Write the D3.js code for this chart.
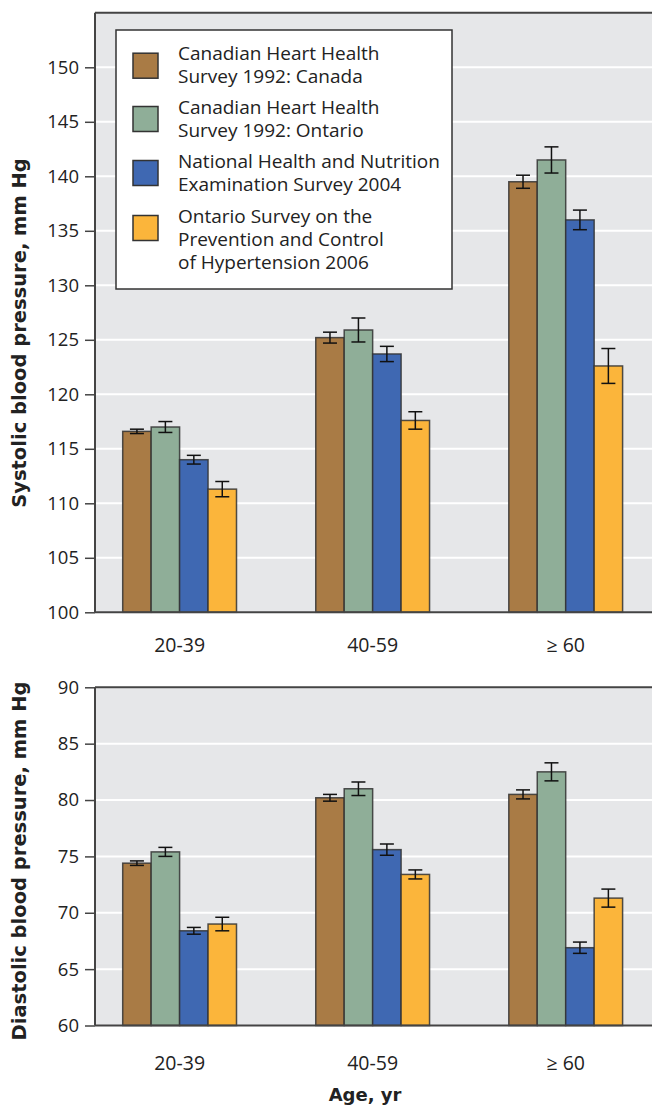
<!DOCTYPE html>
<html><head><meta charset="utf-8">
<script src="https://cdn.jsdelivr.net/npm/d3@7/dist/d3.min.js"></script>
<style>body{margin:0;background:#fff}svg{display:block}</style>
</head><body><svg id="c" width="652" height="1108"></svg>
<script>
const categories = ["20-39", "40-59", "\u2265 60"];
const seriesNames = ["chhsCanada", "chhsOntario", "nhanes", "ospch"];
const legendLabels = [
  ["Canadian Heart Health", "Survey 1992: Canada"],
  ["Canadian Heart Health", "Survey 1992: Ontario"],
  ["National Health and Nutrition", "Examination Survey 2004"],
  ["Ontario Survey on the", "Prevention and Control", "of Hypertension 2006"]
];
const colors = ["#a97b45", "#8fae98", "#3f68b2", "#fbb53b"];

// Systolic (mm Hg)
const sysCanada  = [116.6, 125.2, 139.5];
const sysOntario = [117.0, 125.9, 141.5];
const sysNhanes  = [114.0, 123.7, 136.0];
const sysOspch   = [111.3, 117.6, 122.6];
const sysErrCanada  = [0.2, 0.5, 0.6];
const sysErrOntario = [0.5, 1.1, 1.2];
const sysErrNhanes  = [0.4, 0.7, 0.9];
const sysErrOspch   = [0.7, 0.8, 1.6];
const sysTicks = [100, 105, 110, 115, 120, 125, 130, 135, 140, 145, 150];

// Diastolic (mm Hg)
const diaCanada  = [74.4, 80.2, 80.5];
const diaOntario = [75.4, 81.0, 82.5];
const diaNhanes  = [68.4, 75.6, 66.9];
const diaOspch   = [69.0, 73.4, 71.3];
const diaErrCanada  = [0.2, 0.3, 0.4];
const diaErrOntario = [0.4, 0.6, 0.8];
const diaErrNhanes  = [0.3, 0.5, 0.5];
const diaErrOspch   = [0.6, 0.4, 0.8];
const diaTicks = [60, 65, 70, 75, 80, 85, 90];

const yTitleSys = "Systolic blood pressure, mm Hg";
const yTitleDia = "Diastolic blood pressure, mm Hg";
const xTitle = "Age, yr";

const svg = d3.select("#c");
const FONT = "'Open Sans', sans-serif";
const BOLD = "'DejaVu Sans', sans-serif";
const left = 95, right = 652;

const x0 = d3.scalePoint().domain(categories).range([179.6, 565.7]);
const x1 = d3.scaleBand().domain(seriesNames).range([-56.9, 56.9]);

function panel(cfg) {
  const y = d3.scaleLinear().domain(cfg.domain).range([cfg.bottom, cfg.top]);
  const g = svg.append("g");
  g.append("rect").attr("x", left).attr("y", cfg.top).attr("width", right - left + 10)
    .attr("height", cfg.bottom - cfg.top).attr("fill", "#e6e7e9");
  g.selectAll(".grid").data(cfg.ticks.filter(t => t !== cfg.domain[0])).join("line")
    .attr("x1", left).attr("x2", right).attr("y1", d => y(d)).attr("y2", d => y(d))
    .attr("stroke", "#fff").attr("stroke-width", 2);
  g.append("line").attr("x1", left).attr("x2", right).attr("y1", cfg.top).attr("y2", cfg.top)
    .attr("stroke", "#444").attr("stroke-width", 2);
  const ax = g.append("g").attr("transform", `translate(${left},0)`)
    .call(d3.axisLeft(y).tickValues(cfg.ticks).tickSize(10).tickPadding(6).tickFormat(d3.format("d")));
  ax.select(".domain").attr("stroke", "#444").attr("stroke-width", 2).attr("d", `M0,${cfg.top}V${cfg.bottom}`);
  ax.selectAll(".tick line").attr("stroke", "#444").attr("stroke-width", 1.5);
  ax.selectAll(".tick text").attr("font-family", FONT).attr("font-size", 18.5).attr("fill", "#222");

  if (cfg.legend) {
    const lg = g.append("g");
    lg.append("rect").attr("x", 116).attr("y", 30).attr("width", 336).attr("height", 259)
      .attr("fill", "#fff").attr("stroke", "#333").attr("stroke-width", 1.5);
    const cys = [65.7, 119, 173, 228];
    seriesNames.forEach((s, i) => {
      lg.append("rect").attr("x", 133).attr("y", cys[i] - 12.5).attr("width", 25).attr("height", 25)
        .attr("fill", colors[i]).attr("stroke", "#333").attr("stroke-width", 1.5);
      const t = lg.append("text").attr("font-family", FONT).attr("font-size", 19).attr("fill", "#222");
      legendLabels[i].forEach((line, j) => {
        t.append("tspan").attr("x", 178).attr("y", cys[i] - 5.5 + j * 23).text(line);
      });
    });
  }

  const rows = [];
  categories.forEach((c, ci) => {
    seriesNames.forEach((s, si) => {
      rows.push({c, s, si, v: cfg.values[si][ci], e: cfg.errors[si][ci]});
    });
  });
  const bg = g.append("g");
  bg.selectAll("rect").data(rows).join("rect")
    .attr("x", d => x0(d.c) + x1(d.s))
    .attr("width", x1.bandwidth())
    .attr("y", d => y(d.v))
    .attr("height", d => y(cfg.domain[0]) - y(d.v))
    .attr("fill", d => colors[d.si])
    .attr("stroke", "#333").attr("stroke-opacity", 0.85).attr("stroke-width", 1.5);
  const eg = g.append("g").attr("stroke", "#111").attr("stroke-width", 1.5);
  rows.forEach(d => {
    const cx = x0(d.c) + x1(d.s) + x1.bandwidth() / 2;
    eg.append("line").attr("x1", cx).attr("x2", cx).attr("y1", y(d.v + d.e)).attr("y2", y(d.v - d.e));
    eg.append("line").attr("x1", cx - 7).attr("x2", cx + 7).attr("y1", y(d.v + d.e)).attr("y2", y(d.v + d.e));
    eg.append("line").attr("x1", cx - 7).attr("x2", cx + 7).attr("y1", y(d.v - d.e)).attr("y2", y(d.v - d.e));
  });
  g.append("line").attr("x1", left).attr("x2", right).attr("y1", cfg.bottom).attr("y2", cfg.bottom)
    .attr("stroke", "#444").attr("stroke-width", 2);
  g.selectAll(".cat").data(categories).join("text")
    .attr("x", d => x0(d)).attr("y", cfg.bottom + cfg.labelOffset)
    .attr("text-anchor", "middle").attr("font-family", FONT).attr("font-size", 19.5).attr("fill", "#222")
    .text(d => d);
  g.append("text").attr("transform", `translate(26,${cfg.titleY}) rotate(-90)`)
    .attr("text-anchor", "middle").attr("font-family", BOLD).attr("font-weight", "bold")
    .attr("font-size", 19.5).attr("fill", "#222").text(cfg.title);
}

panel({
  domain: [100, 155], top: 12.8, bottom: 612.3, ticks: sysTicks,
  values: [sysCanada, sysOntario, sysNhanes, sysOspch],
  errors: [sysErrCanada, sysErrOntario, sysErrNhanes, sysErrOspch],
  legend: true, labelOffset: 40, title: yTitleSys, titleY: 333
});
panel({
  domain: [60, 90], top: 687.3, bottom: 1025.5, ticks: diaTicks,
  values: [diaCanada, diaOntario, diaNhanes, diaOspch],
  errors: [diaErrCanada, diaErrOntario, diaErrNhanes, diaErrOspch],
  legend: false, labelOffset: 44, title: yTitleDia, titleY: 861
});
svg.append("text").attr("x", 365).attr("y", 1101).attr("text-anchor", "middle")
  .attr("font-family", BOLD).attr("font-weight", "bold").attr("font-size", 18).attr("fill", "#222")
  .text(xTitle);
</script></body></html>
